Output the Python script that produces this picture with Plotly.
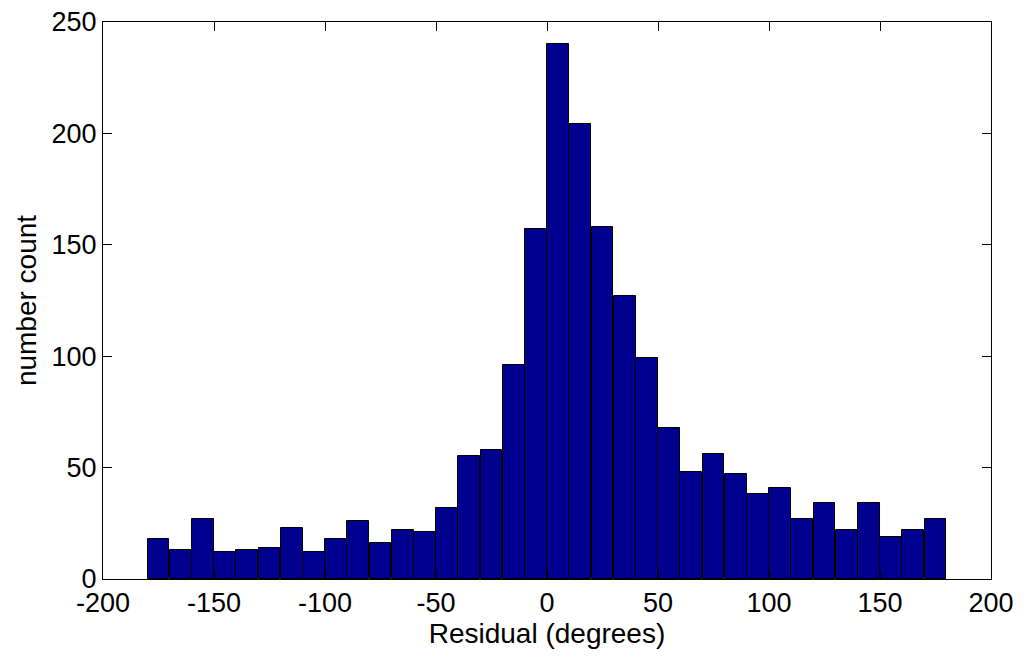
import plotly.graph_objects as go

bin_centers = [-175, -165, -155, -145, -135, -125, -115, -105, -95, -85, -75, -65,
               -55, -45, -35, -25, -15, -5, 5, 15, 25, 35, 45, 55, 65, 75, 85, 95,
               105, 115, 125, 135, 145, 155, 165, 175]
counts = [18, 13, 27, 12, 13, 14, 23, 12, 18, 26, 16, 22,
          21, 32, 55, 58, 96, 157, 240, 204, 158, 127, 99, 68, 48, 56, 47, 38,
          41, 27, 34, 22, 34, 19, 22, 27]
x_ticks = [-200, -150, -100, -50, 0, 50, 100, 150, 200]
y_ticks = [0, 50, 100, 150, 200, 250]

FONT = "Liberation Sans, Arial, sans-serif"

fig = go.Figure()
fig.add_trace(go.Bar(
    x=bin_centers, y=counts, width=9.9,
    marker=dict(color="#00008F", line=dict(color="black", width=1)),
))

axis_common = dict(
    showgrid=False, zeroline=False, showline=True, linecolor="black", linewidth=1,
    mirror="ticks", ticks="inside", ticklen=9, tickcolor="black", automargin=False,
    ticklabeloverflow="allow",
    tickfont=dict(family=FONT, size=27, color="black"),
)
fig.update_xaxes(range=[-200, 200], tickvals=x_ticks, ticktext=[str(v) for v in x_ticks],
                 title=dict(text="Residual (degrees)", standoff=0,
                            font=dict(family=FONT, size=28, color="black")),
                 **axis_common)
fig.update_yaxes(range=[0, 250], tickvals=y_ticks,
                 title=dict(text="number count", standoff=6,
                            font=dict(family=FONT, size=28, color="black")),
                 **axis_common)
fig.update_layout(
    width=1016, height=641, margin=dict(l=95, r=33, t=14, b=70),
    plot_bgcolor="white", paper_bgcolor="white", showlegend=False, bargap=0,
)
fig.write_html("out.html")
